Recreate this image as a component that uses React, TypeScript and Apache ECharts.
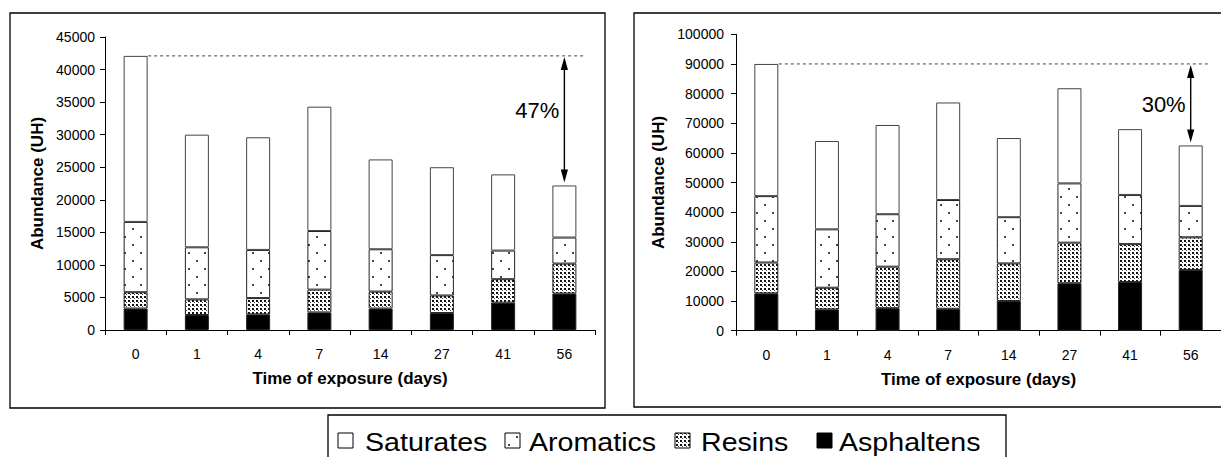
import React, { useEffect, useRef } from "react";
import * as echarts from "echarts";

// ---------- data ----------
const days = ["0", "1", "4", "7", "14", "27", "41", "56"];
const fractionNames = ["Saturates", "Aromatics", "Resins", "Asphaltens"];

// left panel (abundance, UH)
const leftAsphaltens = [3300, 2300, 2400, 2700, 3300, 2600, 4200, 5600];
const leftResins = [2500, 2400, 2500, 3500, 2600, 2700, 3600, 4600];
const leftAromatics = [10800, 8000, 7400, 9000, 6500, 6200, 4400, 4000];
const leftSaturates = [25500, 17300, 17300, 19100, 13800, 13500, 11700, 8000];

// right panel (abundance, UH)
const rightAsphaltens = [12600, 7200, 7600, 7400, 10000, 16000, 16400, 20500];
const rightResins = [10400, 7300, 14000, 16700, 12700, 13700, 12800, 11000];
const rightAromatics = [22400, 19700, 17700, 20000, 15600, 20000, 16600, 10600];
const rightSaturates = [44600, 29800, 30100, 32900, 26700, 32100, 22200, 20400];

// axis ranges
const leftYMax = 45000;
const leftYInterval = 5000;
const rightYMax = 100000;
const rightYInterval = 10000;

// loss annotations
const lossLabels = ["47%", "30%"];
const lossLabelValues = [33700, 76300];

const xTitle = "Time of exposure (days)";
const yTitle = "Abundance (UH)";

const FONT = "'Liberation Sans', Arial, Helvetica, sans-serif";

function makePattern(kind: string): any {
  const c = document.createElement("canvas");
  const ctx = c.getContext("2d") as CanvasRenderingContext2D;
  if (kind === "aromatics") {
    c.width = 16;
    c.height = 16;
    ctx.fillStyle = "#fff";
    ctx.fillRect(0, 0, 16, 16);
    ctx.fillStyle = "#444";
    ctx.fillRect(4, 4, 2, 2);
    ctx.fillRect(12, 12, 2, 2);
  } else {
    c.width = 4;
    c.height = 4;
    ctx.fillStyle = "#fff";
    ctx.fillRect(0, 0, 4, 4);
    ctx.fillStyle = "#111";
    ctx.fillRect(0, 0, 2, 2);
    ctx.fillStyle = "#444";
    ctx.fillRect(2, 2, 1, 1);
  }
  return { image: c, repeat: "repeat" };
}

const sum = (arrs: number[][], i: number) => arrs.reduce((s, a) => s + a[i], 0);

export default function App() {
  const ref = useRef<HTMLDivElement>(null);

  useEffect(() => {
    document.body.style.margin = "0";
    if (!ref.current) return;
    const chart = echarts.init(ref.current, undefined, { renderer: "svg" });

    const aromPattern = makePattern("aromatics");
    const resinPattern = makePattern("resins");

    const fillFor: Record<string, any> = {
      Saturates: "#fff",
      Aromatics: aromPattern,
      Resins: resinPattern,
      Asphaltens: "#000",
    };

    const panels = [
      {
        asph: leftAsphaltens,
        res: leftResins,
        arom: leftAromatics,
        sat: leftSaturates,
        max: leftYMax,
        interval: leftYInterval,
        grid: { left: 105, top: 37, width: 490, height: 293 },
        yNameGap: 59,
        yLabelMargin: 10,
      },
      {
        asph: rightAsphaltens,
        res: rightResins,
        arom: rightAromatics,
        sat: rightSaturates,
        max: rightYMax,
        interval: rightYInterval,
        grid: { left: 736, top: 34.3, width: 489, height: 296.4 },
        yNameGap: 69,
        yLabelMargin: 12,
      },
    ];

    const xAxes: any[] = [];
    const yAxes: any[] = [];
    const grids: any[] = [];
    const series: any[] = [];

    panels.forEach((p, gi) => {
      grids.push({ ...p.grid, containLabel: false });
      xAxes.push({
        type: "category",
        gridIndex: gi,
        data: days,
        axisLine: { show: true, lineStyle: { color: "#000", width: 1 } },
        axisTick: { show: true, length: 5, lineStyle: { color: "#000" } },
        axisLabel: { color: "#000", fontSize: 14, fontFamily: FONT, margin: 17 },
        name: xTitle,
        nameLocation: "middle",
        nameGap: 40,
        nameTextStyle: { color: "#000", fontSize: 17, fontWeight: "bold", fontFamily: FONT },
        splitLine: { show: false },
      });
      yAxes.push({
        type: "value",
        gridIndex: gi,
        min: 0,
        max: p.max,
        interval: p.interval,
        axisLine: { show: true, lineStyle: { color: "#000", width: 1 } },
        axisTick: { show: true, length: 5, lineStyle: { color: "#000" } },
        axisLabel: {
          color: "#000",
          fontSize: 14,
          fontFamily: FONT,
          margin: p.yLabelMargin,
          formatter: (v: number) => String(v),
        },
        splitLine: { show: false },
        name: yTitle,
        nameLocation: "middle",
        nameGap: p.yNameGap,
        nameTextStyle: { color: "#000", fontSize: 17, fontWeight: "bold", fontFamily: FONT },
      });

      const stackData: Record<string, number[]> = {
        Asphaltens: p.asph,
        Resins: p.res,
        Aromatics: p.arom,
        Saturates: p.sat,
      };
      ["Asphaltens", "Resins", "Aromatics", "Saturates"].forEach((name) => {
        series.push({
          name,
          type: "bar",
          xAxisIndex: gi,
          yAxisIndex: gi,
          stack: "panel" + gi,
          barWidth: 24,
          data: stackData[name],
          itemStyle: {
            color: fillFor[name],
            borderColor: name === "Saturates" ? "#444" : "#222",
            borderWidth: 1,
          },
          emphasis: { disabled: true },
        });
      });

      const all = [p.asph, p.res, p.arom, p.sat];
      const last = days.length - 1;
      const firstTotal = sum(all, 0);
      const lastTotal = sum(all, last);
      series.push({
        type: "custom",
        xAxisIndex: gi,
        yAxisIndex: gi,
        z: 10,
        silent: true,
        encode: { x: [0, 2], y: [1, 3, 4] },
        data: [[0, firstTotal, last, lastTotal, lossLabelValues[gi]]],
        renderItem: (params: any, api: any) => {
          const a = api.coord([api.value(0), api.value(1)]);
          const b = api.coord([api.value(2), api.value(3)]);
          const lab = api.coord([api.value(2), api.value(4)]);
          const half = 12.5;
          const ax = b[0];
          const topY = a[1] + 1;
          const botY = b[1] - 3;
          const hl = 13;
          const hw = 3.6;
          return {
            type: "group",
            children: [
              {
                type: "line",
                shape: { x1: a[0] + half, y1: a[1], x2: ax + 20, y2: a[1] },
                style: { stroke: "#444", lineWidth: 1, lineDash: [3, 3] },
              },
              {
                type: "line",
                shape: { x1: ax, y1: topY + hl - 2, x2: ax, y2: botY - hl + 2 },
                style: { stroke: "#000", lineWidth: 1.4 },
              },
              {
                type: "polygon",
                shape: { points: [[ax, topY], [ax - hw, topY + hl], [ax + hw, topY + hl]] },
                style: { fill: "#000" },
              },
              {
                type: "polygon",
                shape: { points: [[ax, botY], [ax - hw, botY - hl], [ax + hw, botY - hl]] },
                style: { fill: "#000" },
              },
              {
                type: "text",
                x: ax - 5,
                y: lab[1],
                style: {
                  text: lossLabels[gi],
                  fill: "#000",
                  fontSize: 22,
                  fontFamily: FONT,
                  align: "right",
                  verticalAlign: "middle",
                },
              },
            ],
          };
        },
      });
    });

    // legend drawn as graphic
    const legendSymbolX = [338, 505, 675, 817];
    const legendTextX = [365, 529, 701, 839];
    const legendChildren: any[] = [];
    fractionNames.forEach((name, i) => {
      legendChildren.push({
        type: "rect",
        shape: { x: legendSymbolX[i], y: 433, width: 15, height: 15 },
        style: { fill: fillFor[name], stroke: "#000", lineWidth: 1 },
      });
      legendChildren.push({
        type: "text",
        x: legendTextX[i],
        y: 441.5,
        scaleX: 1.1,
        style: {
          text: name,
          fill: "#000",
          fontSize: 26,
          fontFamily: FONT,
          verticalAlign: "middle",
          align: "left",
        },
      });
    });

    const option: any = {
      animation: false,
      backgroundColor: "#fff",
      grid: grids,
      xAxis: xAxes,
      yAxis: yAxes,
      series,
      graphic: [
        {
          type: "rect",
          shape: { x: 10, y: 13, width: 595, height: 395 },
          style: { fill: "none", stroke: "#000", lineWidth: 1.3 },
          z: 100,
          silent: true,
        },
        {
          type: "rect",
          shape: { x: 634, y: 13, width: 620, height: 394 },
          style: { fill: "none", stroke: "#000", lineWidth: 1.3 },
          z: 100,
          silent: true,
        },
        {
          type: "rect",
          shape: { x: 328, y: 415, width: 678, height: 60 },
          style: { fill: "none", stroke: "#000", lineWidth: 1.3 },
          z: 100,
          silent: true,
        },
        { type: "group", children: legendChildren, z: 100 },
      ],
    };
    chart.setOption(option);
    return () => chart.dispose();
  }, []);

  return <div ref={ref} style={{ width: 1221, height: 457 }} />;
}
